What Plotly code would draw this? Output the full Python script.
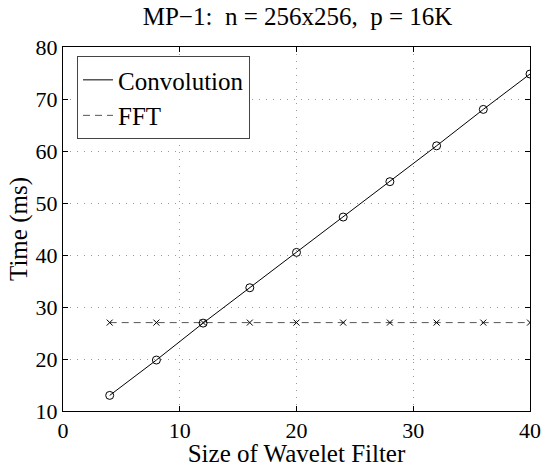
import plotly.graph_objects as go

filter_sizes = [4, 8, 12, 16, 20, 24, 28, 32, 36, 40]
conv_ms = [13.0, 19.8, 26.9, 33.7, 40.5, 47.3, 54.1, 61.0, 68.0, 74.8]
fft_ms = [27.0, 27.0, 27.0, 27.0, 27.0, 27.0, 27.0, 27.0, 27.0, 27.0]
x_ticks = [0, 10, 20, 30, 40]
y_ticks = [10, 20, 30, 40, 50, 60, 70, 80]

font = "Liberation Serif"

fig = go.Figure()
fig.add_trace(go.Scatter(
    x=filter_sizes, y=conv_ms, name="Convolution", mode="lines",
    line=dict(color="black", width=1),
))
fig.add_trace(go.Scatter(
    x=filter_sizes, y=fft_ms, name="FFT", mode="lines",
    line=dict(color="#555555", width=1, dash="7px,5px"),
))
fig.add_trace(go.Scatter(
    x=filter_sizes, y=conv_ms, mode="markers", showlegend=False,
    marker=dict(symbol="circle-open", size=8, color="black", line=dict(width=1)),
))
fig.add_trace(go.Scatter(
    x=filter_sizes, y=fft_ms, mode="markers", showlegend=False,
    marker=dict(symbol="x-thin-open", size=6, color="black", line=dict(width=1)),
))

axis_common = dict(
    showline=True, linecolor="black", linewidth=1, mirror="ticks",
    ticks="inside", ticklen=5, tickcolor="black",
    showgrid=True, gridcolor="#999999", griddash="1px,6px", gridwidth=1,
    zeroline=False, automargin=False,
    tickfont=dict(family=font, size=22, color="black"),
)

fig.update_layout(
    width=546, height=467,
    margin=dict(l=63, r=16, t=47, b=56),
    paper_bgcolor="white", plot_bgcolor="white",
    font=dict(family=font),
    title=dict(text="MP\u22121:  n = 256x256,  p = 16K", x=0.545, xanchor="center",
               y=0.985, yanchor="top",
               font=dict(family=font, size=25, color="black")),
    xaxis=dict(range=[0, 40], tickvals=x_ticks,
               title=dict(text="Size of Wavelet Filter", standoff=10,
                          font=dict(family=font, size=25, color="black")),
               **axis_common),
    yaxis=dict(range=[10, 80], tickvals=y_ticks,
               title=dict(text="Time (ms)", standoff=0,
                          font=dict(family=font, size=25, color="black")),
               **axis_common),
    legend=dict(x=0.03, y=0.975, xanchor="left", yanchor="top",
                bgcolor="white", bordercolor="#444444", borderwidth=1,
                font=dict(family=font, size=25, color="black"),
                tracegroupgap=0, itemwidth=30),
    showlegend=True,
)

fig.write_html("out.html")
